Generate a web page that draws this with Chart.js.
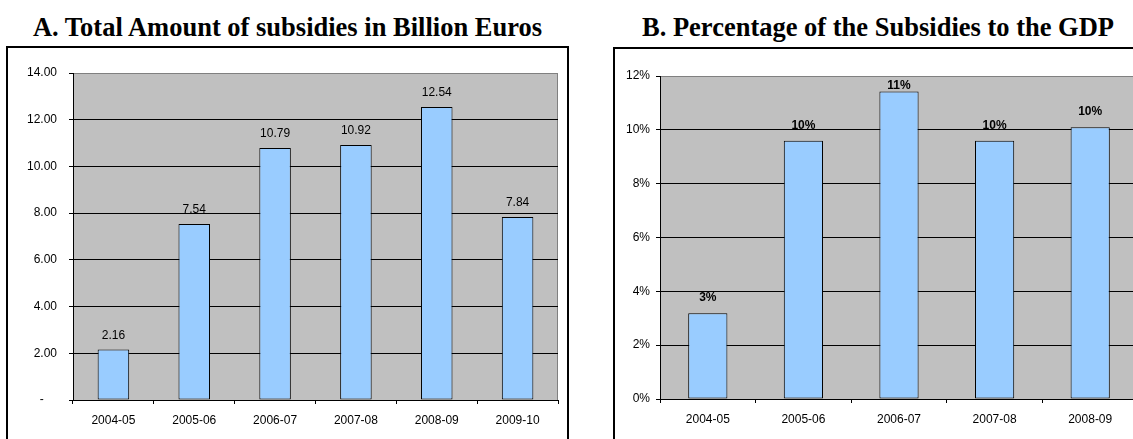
<!DOCTYPE html>
<html>
<head>
<meta charset="utf-8">
<script src="https://cdn.jsdelivr.net/npm/chart.js@4.4.1/dist/chart.umd.min.js"></script>
<style>
  body { margin: 0; width: 1133px; height: 439px; overflow: hidden; background: #fff; position: relative; }
  .titulo { position: absolute; top: 14px; font: bold 26.5px 'Liberation Serif', 'Times New Roman', serif; line-height: 27px; text-align: center; white-space: nowrap; color: #000; }
  .caixa { position: absolute; border: 2px solid #000; background: #fff; }
  .caixa canvas { position: absolute; left: 0; top: 0; }
</style>
</head>
<body>
<div class="titulo" style="left:0; width:575px;">A. Total Amount of subsidies in Billion Euros</div>
<div class="titulo" style="left:622px; width:512px;">B. Percentage of the Subsidies to the GDP</div>

<div class="caixa" style="left:6px; top:46px; width:559px; height:420px;">
  <canvas id="graficoA" width="559" height="400"></canvas>
</div>
<div class="caixa" style="left:613px; top:47px; width:600px; height:420px;">
  <canvas id="graficoB" width="600" height="400"></canvas>
</div>

<script>
// dados do gráfico A (bilhões de euros)
const anosA = ['2004-05', '2005-06', '2006-07', '2007-08', '2008-09', '2009-10'];
const subsidiosBilhoes = [2.16, 7.54, 10.79, 10.92, 12.54, 7.84];

// dados do gráfico B (% do PIB) - a última coluna fica fora da imagem
const anosB = ['2004-05', '2005-06', '2006-07', '2007-08', '2008-09'];
const percentualPib = [3.19, 9.59, 11.42, 9.59, 10.1];

Chart.defaults.font.family = "'Liberation Sans', Arial, sans-serif";
Chart.defaults.font.size = 12;
Chart.defaults.color = '#000';

// fundo cinza da área do gráfico
const fundoPlot = {
  id: 'fundoPlot',
  beforeDraw(chart) {
    const { ctx, chartArea: a } = chart;
    ctx.save();
    ctx.fillStyle = '#c0c0c0';
    ctx.fillRect(a.left, a.top, a.right - a.left, a.bottom - a.top);
    ctx.strokeStyle = '#808080';
    ctx.lineWidth = 1;
    ctx.beginPath();
    ctx.moveTo(a.left, a.top + 0.5);
    ctx.lineTo(Math.round(a.right) - 0.5, a.top + 0.5);
    ctx.lineTo(Math.round(a.right) - 0.5, a.bottom);
    ctx.stroke();
    ctx.restore();
  }
};

// rótulos em cima das barras
function criarRotulos(fonte, distancia, formato) {
  return {
    id: 'rotulos',
    afterDatasetsDraw(chart) {
      const ctx = chart.ctx;
      const valores = chart.data.datasets[0].data;
      ctx.save();
      ctx.font = fonte;
      ctx.fillStyle = '#000';
      ctx.textAlign = 'center';
      ctx.textBaseline = 'alphabetic';
      chart.getDatasetMeta(0).data.forEach((barra, i) => {
        const y = Math.max(barra.y - distancia, chart.chartArea.top + 13);
        ctx.fillText(formato(valores[i]), barra.x, y);
      });
      ctx.restore();
    }
  };
}

function eixoX(altura) {
  return {
    ticks: { padding: 9, maxRotation: 0, autoSkip: false, color: '#000' },
    grid: { drawOnChartArea: false, tickLength: 4, color: '#000', offset: true },
    border: { color: '#000', width: 1 },
    afterFit: s => { s.height = altura; }
  };
}

function eixoY(maximo, largura, espaco, formato) {
  return {
    min: 0,
    max: maximo,
    ticks: { stepSize: 2, padding: espaco, color: '#000', callback: formato },
    grid: {
      color: c => (c.tick && c.tick.value === maximo ? '#808080' : '#000'),
      tickColor: '#000',
      tickLength: 4,
      lineWidth: 1
    },
    border: { color: '#000', width: 1 },
    afterFit: s => { s.width = largura; }
  };
}

function dataset(valores, larguraBarra) {
  return {
    data: valores,
    backgroundColor: '#99ccff',
    borderColor: '#000',
    borderWidth: 1,
    borderSkipped: false,
    categoryPercentage: 1,
    barPercentage: larguraBarra
  };
}

new Chart(document.getElementById('graficoA'), {
  type: 'bar',
  data: { labels: anosA, datasets: [dataset(subsidiosBilhoes, 0.39)] },
  options: {
    responsive: false,
    animation: false,
    layout: { padding: { left: 0, right: 9, top: 25, bottom: 8 } },
    plugins: { legend: { display: false }, tooltip: { enabled: false } },
    scales: {
      x: eixoX(40),
      y: eixoY(14, 65, 12, v => (v === 0 ? '-    ' : v.toFixed(2)))
    }
  },
  plugins: [fundoPlot, criarRotulos("12px 'Liberation Sans', Arial, sans-serif", 11, v => v.toFixed(2))]
});

new Chart(document.getElementById('graficoB'), {
  type: 'bar',
  data: { labels: anosB, datasets: [dataset(percentualPib, 0.41)] },
  options: {
    responsive: false,
    animation: false,
    layout: { padding: { left: 0, right: 77, top: 27, bottom: 10 } },
    plugins: { legend: { display: false }, tooltip: { enabled: false } },
    scales: {
      x: eixoX(40),
      y: eixoY(12, 45, 6, v => v + '%')
    }
  },
  plugins: [fundoPlot, criarRotulos("bold 12px 'Liberation Sans', Arial, sans-serif", 12, v => Math.round(v) + '%')]
});
</script>
</body>
</html>
